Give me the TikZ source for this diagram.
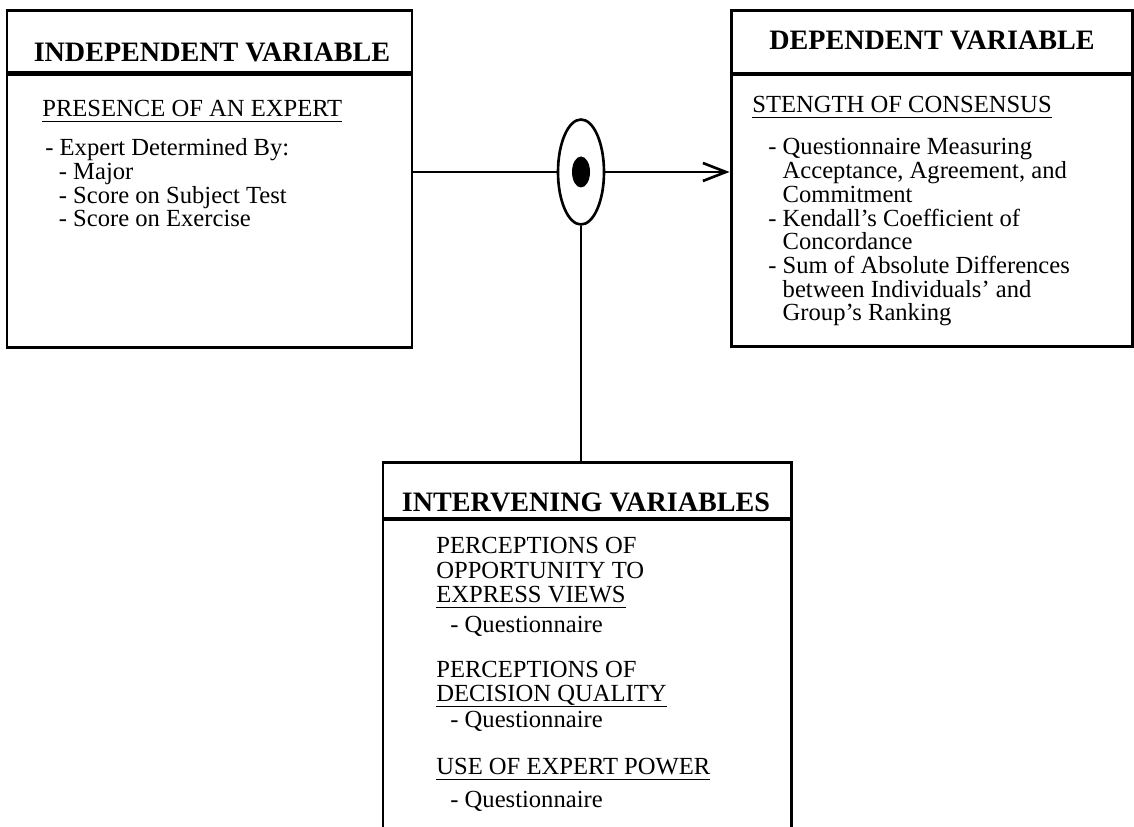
\documentclass[tikz,border=0pt]{standalone}
\usepackage{fontspec}
\setmainfont{Liberation Serif}
\usepackage{tikz}
\usetikzlibrary{shapes.geometric,arrows.meta}
\newcommand{\bodyfont}{\fontsize{14}{13.5}\selectfont}
\newcommand{\undl}[1]{\setbox0\hbox{#1}\rlap{\rule[-3.1pt]{\wd0}{1.1pt}}\box0}

\begin{document}
\begin{tikzpicture}[x=1cm,y=1cm,
  varbox/.style={draw,line width=1.7pt,inner sep=0pt},
  divider/.style={line width=2.8pt},
  link/.style={line width=1.5pt},
  ttl/.style={anchor=base,inner sep=0pt,font=\fontsize{16}{18}\selectfont\bfseries},
  txt/.style={anchor=base west,inner sep=0pt,align=left,font=\bodyfont}]
\path[use as bounding box] (0,0) rectangle (22.68,16.54);
% boxes
\node[varbox,minimum width=8.10cm,minimum height=6.74cm] (indep) at (4.19,12.95) {};
\node[varbox,minimum width=8.02cm,minimum height=6.72cm] (dep) at (18.63,12.96) {};
\node[varbox,minimum width=8.16cm,minimum height=7.68cm] (interv) at (11.74,3.44) {};
\draw[divider] (indep.west |- 0,15.07) -- (indep.east |- 0,15.07);
\draw[divider] (dep.west |- 0,15.06) -- (dep.east |- 0,15.06);
\draw[divider] (interv.west |- 0,6.16) -- (interv.east |- 0,6.16);
\node[ttl] (indepttl) at (4.24,15.30) {INDEPENDENT VARIABLE};
\node[ttl] (depttl) at (18.64,15.54) {DEPENDENT VARIABLE};
\node[ttl] (intervttl) at (11.72,6.30) {INTERVENING VARIABLES};
% independent variable (multi-line texts sit on their last baseline)
\node[txt] (expert) at (0.84,14.20) {\undl{PRESENCE OF AN EXPERT}};
\node[txt] (expertlist) at (0.90,12.00) {- Expert Determined By:\\
  \hspace*{0.55em}- Major\\
  \hspace*{0.55em}- Score on Subject Test\\
  \hspace*{0.55em}- Score on Exercise};
% dependent variable
\node[txt] (consensus) at (15.04,14.28) {\undl{STENGTH OF CONSENSUS}};
\node[txt] (consensuslist) at (15.36,10.12) {- Questionnaire Measuring\\
  \hphantom{-~}Acceptance, Agreement, and\\
  \hphantom{-~}Commitment\\
  - Kendall's Coefficient of\\
  \hphantom{-~}Concordance\\
  - Sum of Absolute Differences\\
  \hphantom{-~}between Individuals' and\\
  \hphantom{-~}Group's Ranking};
% intervening variables
\node[txt,font=\fontsize{14}{14.2}\selectfont] (views) at (8.72,4.48) {PERCEPTIONS OF\\
  OPPORTUNITY TO\\
  \undl{EXPRESS VIEWS}};
\node[txt] (viewsq) at (9.00,3.88) {- Questionnaire};
\node[txt,font=\fontsize{14}{14.2}\selectfont] (quality) at (8.72,2.50) {PERCEPTIONS OF\\
  \undl{DECISION QUALITY}};
\node[txt] (qualityq) at (9.00,1.98) {- Questionnaire};
\node[txt] (power) at (8.72,1.04) {\undl{USE OF EXPERT POWER}};
\node[txt] (powerq) at (9.00,0.38) {- Questionnaire};
% moderator symbol and links
\node[draw,ellipse,line width=1.5pt,minimum width=0.92cm,minimum height=2.10cm,inner sep=0pt] (ring) at (11.62,13.10) {};
\node[fill,ellipse,minimum width=0.36cm,minimum height=0.62cm,inner sep=0pt] (core) at (ring) {};
\draw[link] (indep.east |- ring) -- (ring.west);
\draw[link,-{Straight Barb[length=4.6mm,width=3.6mm,line width=1.5pt]}] (ring.east) -- (dep.west |- ring);
\draw[link] (ring.south) -- (ring.south |- interv.north);
\end{tikzpicture}
\end{document}
